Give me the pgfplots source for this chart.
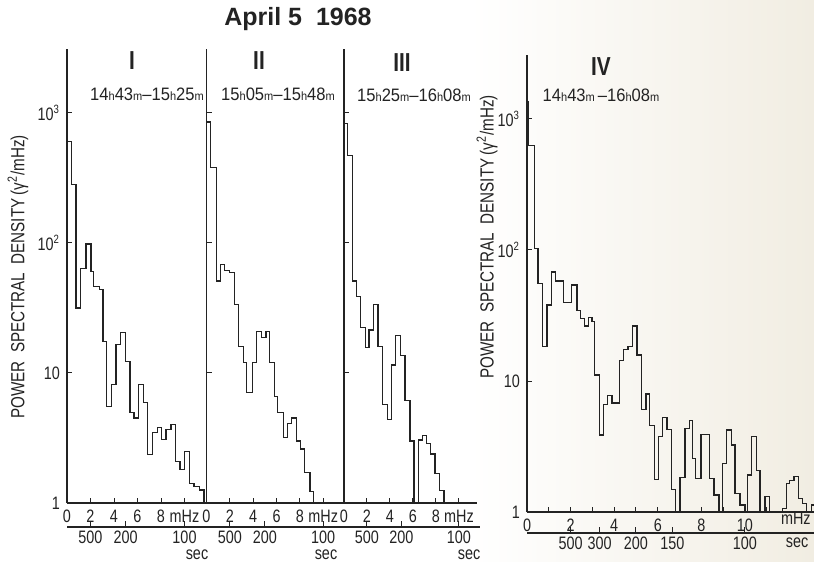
\documentclass[border=0pt]{standalone}
\usepackage{fontspec}
\setmainfont{Liberation Sans}[FakeStretch=0.8]
\newfontfamily\widefont{Liberation Sans}[FakeStretch=0.92]
\newfontfamily\titlefont{Liberation Sans}
\usepackage{pgfplots}
\usepackage{pgfplotstable}
\pgfplotsset{compat=1.18}
\definecolor{ink}{RGB}{35,35,35}
\definecolor{paper}{RGB}{241,237,226}
\newcommand\sm[1]{{\fontsize{6}{6}\selectfont #1}}

\pgfplotstableread{
x y
0 600
0.40 280
0.77 31.6
1.17 64
1.62 98
2.04 60
2.24 46
2.75 43.7
3.06 17.5
3.38 5.5
3.80 8.1
4.17 16.5
4.57 20.6
4.99 12.2
5.36 5.0
5.70 4.5
6.07 8.2
6.50 5.9
6.84 2.35
7.29 3.5
7.69 3.83
8.06 3.06
8.43 3.66
8.85 4.0
9.25 2.1
9.62 1.8
10.01 2.5
10.41 1.42
10.81 1.34
11.26 1.26
11.66 1.26
11.66 1
}\panelI

\pgfplotstableread{
x y
0 850
0.34 383
0.83 51
1.20 68
1.57 61
2.00 59
2.40 33.6
2.71 15.9
3.14 12.0
3.43 7.1
3.91 12.0
4.29 20.9
4.69 18.8
5.09 20.9
5.43 12.0
5.83 6.6
6.11 5.0
6.57 3.2
6.91 4.1
7.26 4.5
7.71 3.0
8.06 2.6
8.40 1.72
8.86 1.22
9.20 1.22
9.20 1
}\panelII

\pgfplotstableread{
x y
0 830
0.29 470
0.72 51
1.10 38.7
1.45 22.4
1.88 15.7
2.17 21.4
2.55 33.4
2.96 15.9
3.33 5.7
3.77 4.4
4.12 11.5
4.49 19.5
4.93 13.7
5.30 6.1
5.74 3.0
6.09 1
6.46 3.05
6.81 3.3
7.19 2.88
7.54 2.38
7.91 1.69
8.32 1.24
8.70 1.24
8.70 1
}\panelIII

\pgfplotstableread{
x y
0 1350
0.08 630
0.34 103
0.50 55.6
0.72 18.3
0.92 38
1.12 68
1.30 58
1.68 40
2.06 54
2.29 34.5
2.45 30
2.63 26.3
2.83 30.6
2.98 28.4
3.10 11.1
3.32 3.87
3.52 6.6
3.70 7.7
3.90 6.8
4.24 14.3
4.43 17.3
4.63 18.3
4.85 26.3
5.05 15.8
5.25 6.1
5.46 7.95
5.63 4.6
5.86 1.78
6.04 3.76
6.22 5.25
6.42 4.25
6.64 1.49
6.82 1
7.02 1.84
7.25 4.35
7.45 5.0
7.60 2.57
7.75 1.81
7.98 3.92
8.39 1.81
8.58 1.35
8.81 1
8.98 2.35
9.16 4.23
9.39 3.25
9.54 1.39
9.77 1.13
10.00 1
10.12 1.92
10.31 3.76
10.54 2.07
10.69 1
10.92 1.31
11.12 1
11.72 1.07
11.90 1.66
12.06 1.75
12.25 1.86
12.45 1.27
12.64 1.16
12.83 1
13.06 1.13
13.17 1.13
}\panelIV

\pgfplotsset{
  mypanel/.style={
    scale only axis, anchor=south west,
    axis lines=left, axis line style={-, ink, line width=0.75pt},
    xmin=0, ymin=1, ymax=3100, height=227pt,
    ytick={1,10,100,1000}, yminorticks=false,
    xtick={0,2,4,6,8,10},
    tick align=inside, major tick length=2.5pt, minor tick length=2.5pt,
    every tick/.style={ink, line width=0.5pt},
    tick label style={font=\fontsize{9}{9}\selectfont, text=ink},
    clip=false,
  },
  mysec/.style={
    scale only axis, anchor=south west, height=1pt,
    ymin=0, ymax=1, xmin=0,
    axis x line=bottom, axis y line=none,
    axis line style={-, ink, line width=0.6pt},
    tick align=inside, major tick length=3pt,
    every tick/.style={ink, line width=0.5pt},
    tick label style={font=\fontsize{9}{9}\selectfont, text=ink},
    xticklabel style={yshift=1.5pt},
  },
  myhist/.style={const plot, ink, line width=0.6pt, mark=none},
}

\begin{document}
\begin{tikzpicture}
\useasboundingbox (0,0) rectangle (407pt,-281pt);
\fill[white] (0,0) rectangle (407pt,-281pt);
\shade[left color=white, right color=paper] (235pt,0) rectangle (407pt,-281pt);

% Panel I
\begin{semilogyaxis}[mypanel, at={(33.5pt,-251.5pt)}, width=70pt, xmax=11.915,
  yticklabels={1,10,10\textsuperscript{2},10\textsuperscript{3}},
  xticklabels={0,2,4,6,8,mHz}]
\addplot[myhist] table[x=x,y=y] {\panelI};
\end{semilogyaxis}
% Panel II
\begin{semilogyaxis}[mypanel, at={(103.25pt,-251.5pt)}, width=68.75pt, xmax=11.78,
  yticklabels={}, xticklabels={0,2,4,6,8,mHz}]
\addplot[myhist] table[x=x,y=y] {\panelII};
\end{semilogyaxis}
% Panel III
\begin{semilogyaxis}[mypanel, at={(172pt,-251.5pt)}, width=66.5pt, xmax=11.57,
  yticklabels={}, xticklabels={0,2,4,6,8,mHz}]
\addplot[myhist] table[x=x,y=y] {\panelIII};
\end{semilogyaxis}
% Panel IV
\begin{semilogyaxis}[mypanel, at={(263.5pt,-256pt)}, width=143.5pt, height=228.5pt,
  xmax=13.17, ymax=3080,
  yticklabels={1,10,10\textsuperscript{2},10\textsuperscript{3}},
  xtick={0,2,4,6,8,10}, xticklabels={0,2,4,6,8,10}, minor xtick={1,3,5,7,9,11}]
\addplot[myhist] table[x=x,y=y] {\panelIV};
\end{semilogyaxis}

% period (sec) axes
\begin{axis}[mysec, at={(33.5pt,-263.5pt)}, width=70pt, xmax=11.915,
  xtick={2,5,10}, xticklabels={500,200,100}]
\end{axis}
\begin{axis}[mysec, at={(103.25pt,-263.5pt)}, width=68.75pt, xmax=11.78,
  xtick={2,5,10}, xticklabels={500,200,100}]
\end{axis}
\begin{axis}[mysec, at={(172pt,-263.5pt)}, width=68pt, xmax=11.83,
  xtick={2,5,10}, xticklabels={500,200,100}]
\end{axis}
\begin{axis}[mysec, at={(263.5pt,-266.5pt)}, width=143.5pt, xmax=13.17,
  xtick={2,3.333,5,6.667,10}, xticklabels={500,300,200,150,100}]
\end{axis}

\begin{scope}[x=0.5pt,y=-0.5pt]
\node[text=ink, font=\titlefont\bfseries\fontsize{12.5}{12.5}\selectfont] at (298,19) {April 5\ \ 1968};
\node[text=ink, font=\bfseries\fontsize{13}{13}\selectfont] at (132,61) {I};
\node[text=ink, font=\bfseries\fontsize{13}{13}\selectfont] at (259,61) {II};
\node[text=ink, font=\bfseries\fontsize{13}{13}\selectfont] at (402,63) {III};
\node[text=ink, font=\bfseries\fontsize{13}{13}\selectfont] at (601,67) {IV};
\node[text=ink, font=\widefont\fontsize{9}{9}\selectfont] at (147,94) {14\sm{h}43\sm{m}–15\sm{h}25\sm{m}};
\node[text=ink, font=\widefont\fontsize{9}{9}\selectfont] at (278,94) {15\sm{h}05\sm{m}–15\sm{h}48\sm{m}};
\node[text=ink, font=\widefont\fontsize{9}{9}\selectfont] at (414,95) {15\sm{h}25\sm{m}–16\sm{h}08\sm{m}};
\node[text=ink, font=\widefont\fontsize{9}{9}\selectfont] at (601,95) {14\sm{h}43\sm{m}\,–16\sm{h}08\sm{m}};
\node[text=ink, font=\fontsize{9.5}{9.5}\selectfont, rotate=90] at (18,277) {POWER\ \ SPECTRAL\ \ DENSITY\,(γ\textsuperscript{2}/mHz)};
\node[text=ink, font=\fontsize{9.5}{9.5}\selectfont, rotate=90] at (487,237) {POWER\ \ SPECTRAL\ \ DENSITY\,(γ\textsuperscript{2}/mHz)};
\node[text=ink, font=\fontsize{9}{9}\selectfont] at (197,555) {sec};
\node[text=ink, font=\fontsize{9}{9}\selectfont] at (326,555) {sec};
\node[text=ink, font=\fontsize{9}{9}\selectfont] at (469,555) {sec};
\node[text=ink, font=\fontsize{9}{9}\selectfont] at (797,543) {sec};
\node[text=ink, font=\fontsize{9}{9}\selectfont, anchor=east, inner xsep=1pt] at (813,518) {mHz};
\end{scope}
\end{tikzpicture}
\end{document}
